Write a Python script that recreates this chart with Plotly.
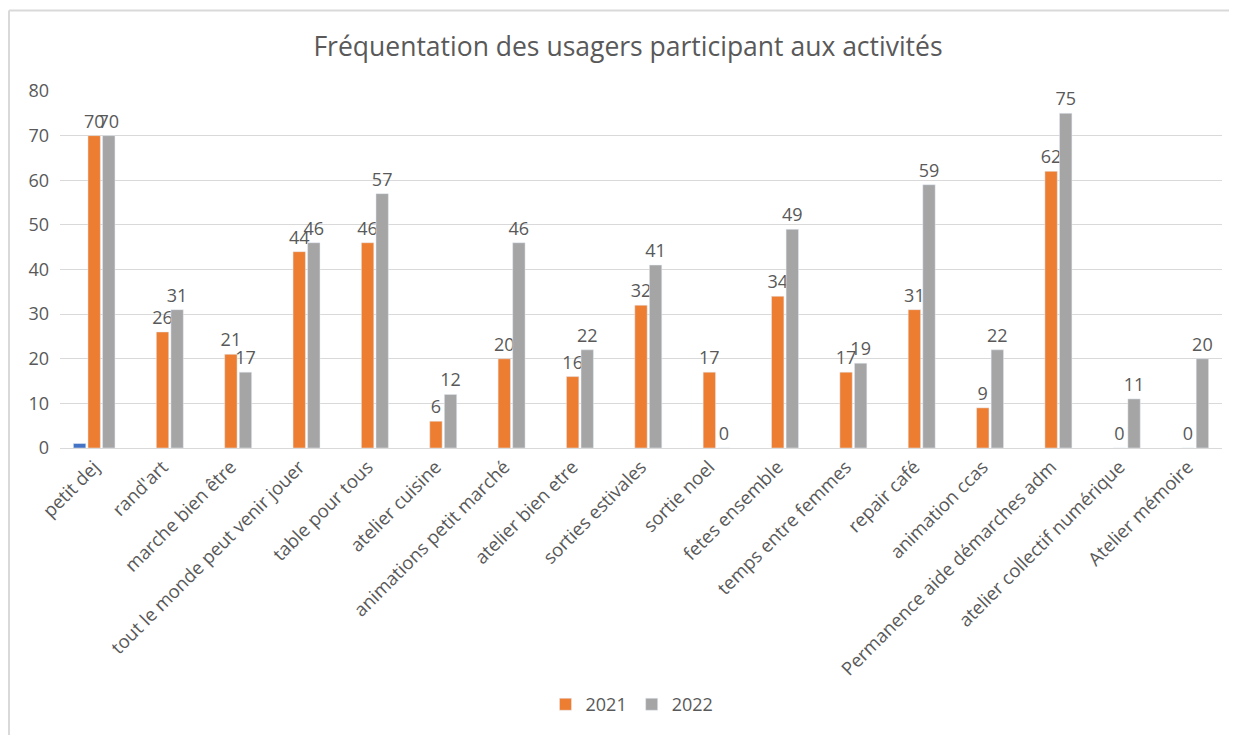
import plotly.graph_objects as go

categories = ["petit dej", "rand'art", "marche bien être", "tout le monde peut venir jouer",
              "table pour tous", "atelier cuisine", "animations petit marché", "atelier bien etre",
              "sorties estivales", "sortie noel", "fetes ensemble", "temps entre femmes",
              "repair café", "animation ccas", "Permanence aide démarches adm",
              "atelier collectif numérique", "Atelier mémoire"]
serie_blue = [1] + [None] * 16
values_2021 = [70, 26, 21, 44, 46, 6, 20, 16, 32, 17, 34, 17, 31, 9, 62, 0, 0]
values_2022 = [70, 31, 17, 46, 57, 12, 46, 22, 41, 0, 49, 19, 59, 22, 75, 11, 20]
y_ticks = [0, 10, 20, 30, 40, 50, 60, 70, 80]

FONT = "Open Sans"
TXT = "#595959"
OFF = 8  # page body margin

fig = go.Figure()
fig.add_trace(go.Bar(x=categories, y=serie_blue, name="Série1", marker_color="#4472C4",
                     showlegend=False, hoverinfo="skip"))
fig.add_trace(go.Bar(x=categories, y=values_2021, name="2021", marker_color="#ED7D31",
                     text=[str(v) for v in values_2021], textposition="outside",
                     cliponaxis=False, constraintext="none",
                     textfont=dict(size=18, color=TXT, family=FONT)))
fig.add_trace(go.Bar(x=categories, y=values_2022, name="2022", marker_color="#A5A5A5",
                     text=[str(v) for v in values_2022], textposition="outside",
                     cliponaxis=False, constraintext="none",
                     textfont=dict(size=18, color=TXT, family=FONT)))

W, H = 1237 - OFF, 735 - OFF
L, R, T = 60 - OFF, 15, 91 - OFF
pw, ph = 1162, 359
B = H - T - ph

def py2paper(py):
    return (450 - py) / ph

def px2paper(px):
    return (px - 60) / pw

fig.update_layout(
    width=W, height=H,
    margin=dict(l=L, r=R, t=T, b=B),
    paper_bgcolor="white", plot_bgcolor="white",
    barmode="group", bargap=0.36, bargroupgap=0.15,
    font=dict(family=FONT, color=TXT),
    title=dict(text="Fréquentation des usagers participant aux activités",
               x=px2paper(628), xref="paper", xanchor="center",
               y=1 - (47 - OFF) / H, yanchor="middle",
               font=dict(size=26.5, color=TXT, family=FONT)),
    xaxis=dict(tickangle=-45, tickfont=dict(size=18.5, color=TXT), showgrid=False,
               showline=True, linecolor="#D9D9D9", linewidth=1, ticks=""),
    yaxis=dict(range=[0, 80], tickvals=y_ticks, tickfont=dict(size=18, color=TXT),
               showgrid=True, gridcolor="#D9D9D9", gridwidth=1, zeroline=False,
               showline=False, ticks="", ticklabelstandoff=10),
    legend=dict(orientation="h", x=px2paper(632), xanchor="center", y=py2paper(708),
                yanchor="middle", font=dict(size=18, color=TXT), itemwidth=30,
                traceorder="normal"),
    showlegend=True,
)

# chart frame
fig.add_shape(type="line", xref="paper", yref="paper",
              x0=px2paper(9), x1=px2paper(9), y0=py2paper(10), y1=py2paper(740),
              line=dict(color="#D9D9D9", width=2))
fig.add_shape(type="line", xref="paper", yref="paper",
              x0=px2paper(9), x1=px2paper(1240), y0=py2paper(10), y1=py2paper(10),
              line=dict(color="#D9D9D9", width=2))

fig.write_html("out.html")
